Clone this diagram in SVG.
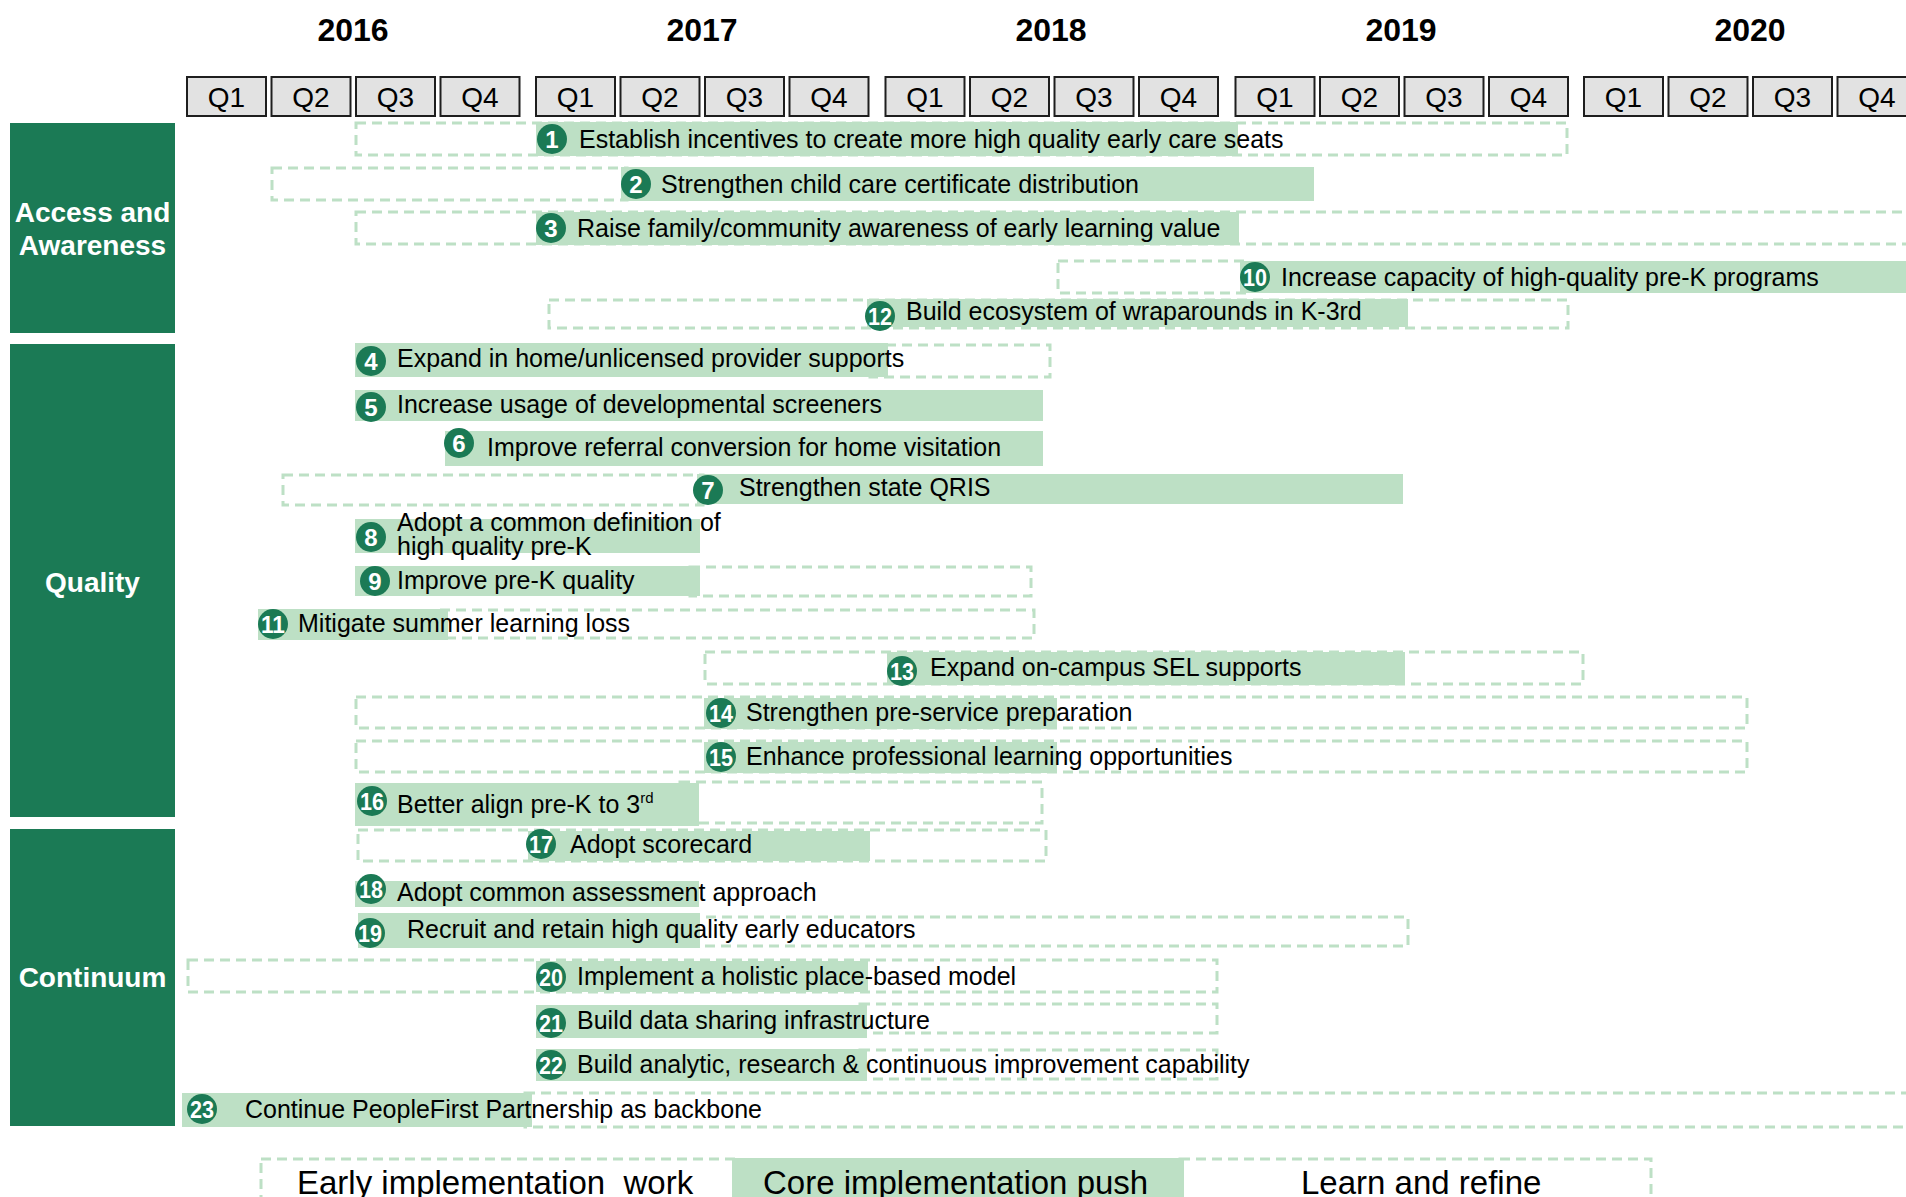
<svg xmlns="http://www.w3.org/2000/svg" width="1906" height="1197" viewBox="0 0 1906 1197">
<style>
text{font-family:"Liberation Sans",Arial,sans-serif;}
.yr{font-size:32px;font-weight:bold;fill:#000;text-anchor:middle;}
.qb{fill:#e2e2e2;stroke:#1e1e1e;stroke-width:2;}
.ql{font-size:28px;fill:#000;text-anchor:middle;}
.cat{fill:#1b7a55;}
.catt{font-size:28px;font-weight:bold;fill:#fff;text-anchor:middle;}
.sol{fill:#bde0c5;}
.dash{fill:none;stroke:#bde0c5;stroke-width:3;stroke-dasharray:10 6;}
.bd{fill:#1b7a55;}
.bn{font-size:24px;font-weight:bold;fill:#fff;text-anchor:middle;}
.tx{font-size:25px;fill:#000;}
.lg{font-size:33px;fill:#000;}
</style>
<rect width="1906" height="1197" fill="#fff"/>
<g id="years">
<text class="yr" x="353" y="41">2016</text>
<text class="yr" x="702" y="41">2017</text>
<text class="yr" x="1051" y="41">2018</text>
<text class="yr" x="1401" y="41">2019</text>
<text class="yr" x="1750" y="41">2020</text>
</g>
<g id="quarters">
<rect class="qb" x="187" y="77" width="79" height="39"/><text class="ql" x="226.5" y="107">Q1</text>
<rect class="qb" x="271.5" y="77" width="79" height="39"/><text class="ql" x="311" y="107">Q2</text>
<rect class="qb" x="356" y="77" width="79" height="39"/><text class="ql" x="395.5" y="107">Q3</text>
<rect class="qb" x="440.5" y="77" width="79" height="39"/><text class="ql" x="480" y="107">Q4</text>
<rect class="qb" x="536" y="77" width="79" height="39"/><text class="ql" x="575.5" y="107">Q1</text>
<rect class="qb" x="620.5" y="77" width="79" height="39"/><text class="ql" x="660" y="107">Q2</text>
<rect class="qb" x="705" y="77" width="79" height="39"/><text class="ql" x="744.5" y="107">Q3</text>
<rect class="qb" x="789.5" y="77" width="79" height="39"/><text class="ql" x="829" y="107">Q4</text>
<rect class="qb" x="885.5" y="77" width="79" height="39"/><text class="ql" x="925" y="107">Q1</text>
<rect class="qb" x="970" y="77" width="79" height="39"/><text class="ql" x="1009.5" y="107">Q2</text>
<rect class="qb" x="1054.5" y="77" width="79" height="39"/><text class="ql" x="1094" y="107">Q3</text>
<rect class="qb" x="1139" y="77" width="79" height="39"/><text class="ql" x="1178.5" y="107">Q4</text>
<rect class="qb" x="1235.5" y="77" width="79" height="39"/><text class="ql" x="1275" y="107">Q1</text>
<rect class="qb" x="1320" y="77" width="79" height="39"/><text class="ql" x="1359.5" y="107">Q2</text>
<rect class="qb" x="1404.5" y="77" width="79" height="39"/><text class="ql" x="1444" y="107">Q3</text>
<rect class="qb" x="1489" y="77" width="79" height="39"/><text class="ql" x="1528.5" y="107">Q4</text>
<rect class="qb" x="1584" y="77" width="79" height="39"/><text class="ql" x="1623.5" y="107">Q1</text>
<rect class="qb" x="1668.5" y="77" width="79" height="39"/><text class="ql" x="1708" y="107">Q2</text>
<rect class="qb" x="1753" y="77" width="79" height="39"/><text class="ql" x="1792.5" y="107">Q3</text>
<rect class="qb" x="1837.5" y="77" width="79" height="39"/><text class="ql" x="1877" y="107">Q4</text>
</g>
<g id="cat-access"><rect class="cat" x="10" y="123" width="165" height="210"/><text class="catt" x="92.5" y="222">Access and</text><text class="catt" x="92.5" y="255">Awareness</text></g>
<g id="cat-quality"><rect class="cat" x="10" y="344" width="165" height="473"/><text class="catt" x="92.5" y="592">Quality</text></g>
<g id="cat-continuum"><rect class="cat" x="10" y="829" width="165" height="297"/><text class="catt" x="92.5" y="987">Continuum</text></g>
<g id="connectors"></g>
<g id="t1"><rect class="dash" x="356" y="123" width="1211" height="32"/><rect class="sol" x="536" y="122" width="702" height="34"/><circle class="bd" cx="552" cy="139" r="15"/><text class="bn" x="552" y="148">1</text><text class="tx" x="579" y="148">Establish incentives to create more high quality early care seats</text></g>
<g id="t2"><rect class="dash" x="272" y="168" width="355" height="32"/><rect class="sol" x="621" y="167" width="693" height="34"/><circle class="bd" cx="636" cy="184" r="15"/><text class="bn" x="636" y="193">2</text><text class="tx" x="661" y="193">Strengthen child care certificate distribution</text></g>
<g id="t3"><rect class="dash" x="356" y="212" width="1570" height="32"/><rect class="sol" x="536" y="212" width="703" height="33"/><circle class="bd" cx="551" cy="228" r="15"/><text class="bn" x="551" y="237">3</text><text class="tx" x="577" y="237">Raise family/community awareness of early learning value</text></g>
<g id="t10"><rect class="dash" x="1058" y="261" width="190" height="32"/><rect class="sol" x="1240" y="261" width="670" height="32"/><circle class="bd" cx="1255" cy="277" r="15"/><text class="bn" x="1255" y="286" textLength="24" lengthAdjust="spacingAndGlyphs">10</text><text class="tx" x="1281" y="286">Increase capacity of high-quality pre-K programs</text></g>
<g id="t12"><rect class="dash" x="549" y="300" width="1019" height="28"/><rect class="sol" x="867" y="299" width="541" height="28"/><circle class="bd" cx="880" cy="316" r="15"/><text class="bn" x="880" y="325" textLength="24" lengthAdjust="spacingAndGlyphs">12</text><text class="tx" x="906" y="320">Build ecosystem of wraparounds in K-3rd</text></g>
<g id="t4"><rect class="dash" x="870" y="345" width="180" height="32"/><rect class="sol" x="355" y="343" width="533" height="34"/><circle class="bd" cx="371" cy="361" r="15"/><text class="bn" x="371" y="370">4</text><text class="tx" x="397" y="367">Expand in home/unlicensed provider supports</text></g>
<g id="t5"><rect class="sol" x="355" y="390" width="688" height="31"/><circle class="bd" cx="371" cy="407" r="15"/><text class="bn" x="371" y="416">5</text><text class="tx" x="397" y="413">Increase usage of developmental screeners</text></g>
<g id="t6"><rect class="sol" x="445" y="431" width="598" height="35"/><circle class="bd" cx="459" cy="443" r="15"/><text class="bn" x="459" y="452">6</text><text class="tx" x="487" y="456">Improve referral conversion for home visitation</text></g>
<g id="t7"><rect class="dash" x="283" y="475" width="420" height="30"/><rect class="sol" x="697" y="474" width="706" height="30"/><circle class="bd" cx="708" cy="490" r="15"/><text class="bn" x="708" y="499">7</text><text class="tx" x="739" y="496">Strengthen state QRIS</text></g>
<g id="t8"><rect class="sol" x="355" y="519" width="345" height="34"/><circle class="bd" cx="371" cy="537" r="15"/><text class="bn" x="371" y="546">8</text><text class="tx" x="397" y="531">Adopt a common definition of</text><text class="tx" x="397" y="555">high quality pre-K</text></g>
<g id="t9"><rect class="dash" x="690" y="567" width="341" height="29"/><rect class="sol" x="355" y="566" width="345" height="30"/><circle class="bd" cx="375" cy="581" r="15"/><text class="bn" x="375" y="590">9</text><text class="tx" x="397" y="589">Improve pre-K quality</text></g>
<g id="t11"><rect class="dash" x="440" y="610" width="594" height="28"/><rect class="sol" x="258" y="609" width="190" height="31"/><circle class="bd" cx="273" cy="624" r="15"/><text class="bn" x="273" y="633" textLength="24" lengthAdjust="spacingAndGlyphs">11</text><text class="tx" x="298" y="632">Mitigate summer learning loss</text></g>
<g id="t13"><rect class="dash" x="705" y="652" width="878" height="32"/><rect class="sol" x="887" y="652" width="518" height="33"/><circle class="bd" cx="902" cy="671" r="15"/><text class="bn" x="902" y="680" textLength="24" lengthAdjust="spacingAndGlyphs">13</text><text class="tx" x="930" y="676">Expand on-campus SEL supports</text></g>
<g id="t14"><rect class="dash" x="356" y="697" width="1391" height="31"/><rect class="sol" x="704" y="698" width="353" height="31"/><circle class="bd" cx="721" cy="713" r="15"/><text class="bn" x="721" y="722" textLength="24" lengthAdjust="spacingAndGlyphs">14</text><text class="tx" x="746" y="721">Strengthen pre-service preparation</text></g>
<g id="t15"><rect class="dash" x="356" y="741" width="1391" height="31"/><rect class="sol" x="704" y="742" width="353" height="31"/><circle class="bd" cx="721" cy="757" r="15"/><text class="bn" x="721" y="766" textLength="24" lengthAdjust="spacingAndGlyphs">15</text><text class="tx" x="746" y="765">Enhance professional learning opportunities</text></g>
<g id="t16"><rect class="dash" x="680" y="782" width="362" height="41"/><rect class="sol" x="355" y="783" width="344" height="43"/><circle class="bd" cx="372" cy="801" r="15"/><text class="bn" x="372" y="810" textLength="24" lengthAdjust="spacingAndGlyphs">16</text><text class="tx" x="397" y="813">Better align pre-K to 3<tspan font-size="15" dy="-10">rd</tspan></text></g>
<g id="t17"><rect class="dash" x="358" y="830" width="688" height="31"/><rect class="sol" x="528" y="831" width="342" height="30"/><circle class="bd" cx="541" cy="844" r="15"/><text class="bn" x="541" y="853" textLength="24" lengthAdjust="spacingAndGlyphs">17</text><text class="tx" x="570" y="853">Adopt scorecard</text></g>
<g id="t18"><rect class="sol" x="355" y="881" width="344" height="26"/><circle class="bd" cx="371" cy="889" r="15"/><text class="bn" x="371" y="898" textLength="24" lengthAdjust="spacingAndGlyphs">18</text><text class="tx" x="397" y="901">Adopt common assessment approach</text></g>
<g id="t19"><rect class="dash" x="690" y="917" width="718" height="29"/><rect class="sol" x="358" y="913" width="342" height="35"/><circle class="bd" cx="370" cy="933" r="15"/><text class="bn" x="370" y="942" textLength="24" lengthAdjust="spacingAndGlyphs">19</text><text class="tx" x="407" y="938">Recruit and retain high quality early educators</text></g>
<g id="t20"><rect class="dash" x="188" y="960" width="1029" height="32"/><rect class="sol" x="536" y="961" width="332" height="31"/><circle class="bd" cx="551" cy="977" r="15"/><text class="bn" x="551" y="986" textLength="24" lengthAdjust="spacingAndGlyphs">20</text><text class="tx" x="577" y="985">Implement a holistic place-based model</text></g>
<g id="t21"><rect class="dash" x="860" y="1004" width="357" height="29"/><rect class="sol" x="536" y="1005" width="331" height="33"/><circle class="bd" cx="551" cy="1023" r="15"/><text class="bn" x="551" y="1032" textLength="24" lengthAdjust="spacingAndGlyphs">21</text><text class="tx" x="577" y="1029">Build data sharing infrastructure</text></g>
<g id="t22"><rect class="dash" x="860" y="1050" width="357" height="29"/><rect class="sol" x="536" y="1049" width="331" height="32"/><circle class="bd" cx="551" cy="1065" r="15"/><text class="bn" x="551" y="1074" textLength="24" lengthAdjust="spacingAndGlyphs">22</text><text class="tx" x="577" y="1073">Build analytic, research &amp; continuous improvement capability</text></g>
<g id="t23"><rect class="dash" x="525" y="1093" width="1400" height="34"/><rect class="sol" x="182" y="1093" width="350" height="34"/><circle class="bd" cx="202" cy="1109" r="15"/><text class="bn" x="202" y="1118" textLength="24" lengthAdjust="spacingAndGlyphs">23</text><text class="tx" x="245" y="1118">Continue PeopleFirst Partnership as backbone</text></g>
<g id="legend">
<rect class="dash" x="261" y="1159" width="475" height="60"/>
<rect class="dash" x="1180" y="1159" width="471" height="60"/>
<rect class="sol" x="732" y="1158" width="452" height="60"/>
<text class="lg" x="297" y="1194" xml:space="preserve">Early implementation  work</text>
<text class="lg" x="763" y="1194">Core implementation push</text>
<text class="lg" x="1301" y="1194">Learn and refine</text>
</g>
</svg>
